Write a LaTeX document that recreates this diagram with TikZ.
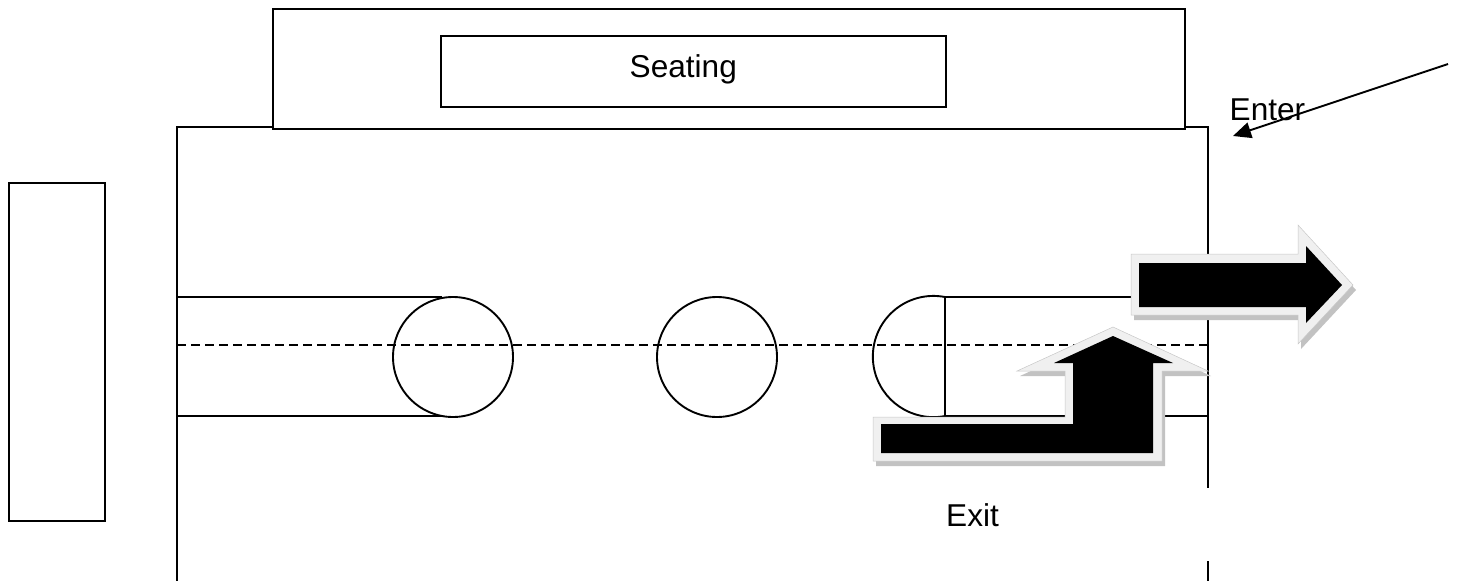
\documentclass[tikz,border=0pt]{standalone}
\usepackage{fontspec}
\setmainfont{Liberation Sans}
\usetikzlibrary{arrows.meta}
\tikzset{
  ln/.style={line width=1.9pt,black},
  box/.style={ln,draw,fill=white,minimum width=0pt,minimum height=0pt,inner sep=0pt,outer sep=0pt},
  lbl/.style={font=\fontsize{31.6}{36}\selectfont,inner sep=0pt,anchor=base west},
  ring/.style={ln,draw,circle,minimum size=120pt,inner sep=0pt,outer sep=0pt},
  blockshadow/.style={fill=black!24,draw=none},
  blockrim/.style={fill=black!6,draw=black!22,line width=0.5pt},
  blockcore/.style={fill=black,draw=none}
}
\begin{document}
\begin{tikzpicture}[x=1pt,y=-1pt]
\useasboundingbox (0,0) rectangle (1457,581);
% frame
\coordinate (fa) at (177,581);
\coordinate (fb) at (177,127);
\coordinate (fc) at (1208,127);
\coordinate (fd) at (1208,488);
\coordinate (fe) at (1208,561);
\coordinate (ff) at (1208,581);
\draw[ln,line join=miter] (fa) -- (fb) -- (fc) -- (fd);
\draw[ln] (fe) -- (ff);
% top seating block
\node[box,minimum width=912pt,minimum height=120pt] (stand) at (729,69) {};
\node[box,minimum width=505pt,minimum height=71pt] (seat) at (693.5,71.5) {};
\node[lbl] (seattext) at (629.5,77) {Seating};
% left block
\node[box,minimum width=96pt,minimum height=338pt] (left) at (57,352) {};
% channels
\coordinate (la) at (177,297); \coordinate (lb) at (442,297);
\coordinate (lc) at (177,416); \coordinate (ld) at (442,416);
\coordinate (ra) at (945,297); \coordinate (rb) at (1208,297);
\coordinate (rc) at (945,416); \coordinate (rd) at (1208,416);
\draw[ln] (la) -- (lb);
\draw[ln] (lc) -- (ld);
\draw[ln] (ra) -- (rb);
\draw[ln] (rc) -- (rd);
% circles
\node[ring] (c1) at (453,357) {};
\node[ring] (c2) at (717,357) {};
\draw[ln] (ra) -- (rc) arc[start angle=79,end angle=281,x radius=60.6pt,y radius=-60.6pt] -- cycle;
% centre line
\coordinate (da) at (177,345); \coordinate (db) at (1208,345);
\draw[ln,dash pattern=on 9pt off 5pt] (da) -- (db);
% exit arrow, bent
\begin{scope}[shift={(3,5)}]
\path[blockshadow] (873,417) -- (1065,417) -- (1065,371) -- (1017,371) -- (1113,327) -- (1208,371) -- (1162,371) -- (1162,461) -- (873,461) -- cycle;
\end{scope}
\path[blockrim] (873,417) -- (1065,417) -- (1065,371) -- (1017,371) -- (1113,327) -- (1208,371) -- (1162,371) -- (1162,461) -- (873,461) -- cycle;
\path[blockcore] (881,424) -- (1073,424) -- (1073,363) -- (1054,363) -- (1113,336) -- (1173,363) -- (1153,363) -- (1153,453) -- (881,453) -- cycle;
% exit arrow, straight
\begin{scope}[shift={(3,5)}]
\path[blockshadow] (1131,254) -- (1298,254) -- (1298,225) -- (1353,285) -- (1298,344) -- (1298,315) -- (1131,315) -- cycle;
\end{scope}
\path[blockrim] (1131,254) -- (1298,254) -- (1298,225) -- (1353,285) -- (1298,344) -- (1298,315) -- (1131,315) -- cycle;
\path[blockcore] (1139,263) -- (1306,263) -- (1306,246) -- (1342,285) -- (1306,323) -- (1306,307) -- (1139,307) -- cycle;
% labels
\node[lbl] (exit) at (946,526) {Exit};
\node[lbl] (enter) at (1229.5,120) {Enter};
\coordinate (ea) at (1448,64);
\coordinate (eb) at (1233,136);
\draw[ln,-{Stealth[length=18pt,width=16pt,inset=0pt]}] (ea) -- (eb);
\end{tikzpicture}
\end{document}
